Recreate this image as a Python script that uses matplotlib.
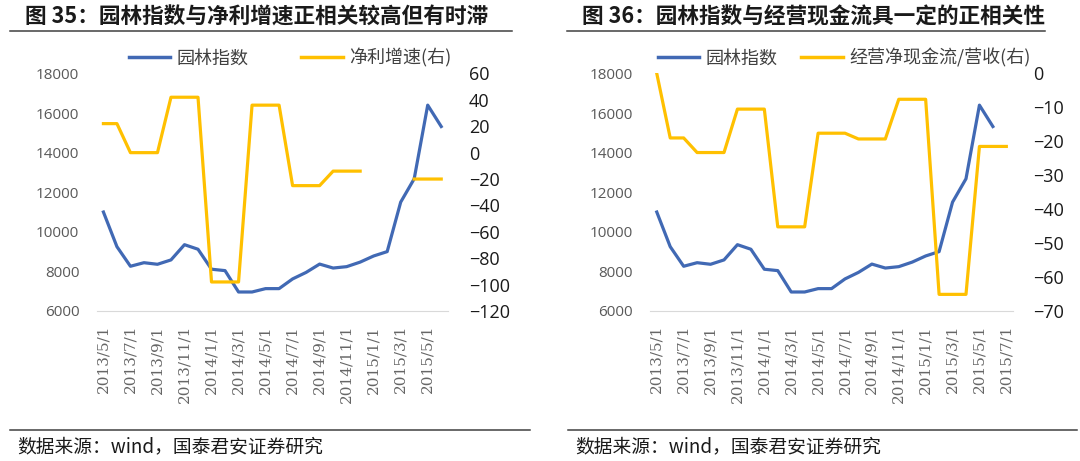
import numpy as np
import matplotlib.pyplot as plt
from matplotlib.lines import Line2D

plt.rcParams['font.family'] = ['Noto Sans CJK SC', 'DejaVu Sans']

# months shown on the left chart (2013/5 .. 2015/6) and right chart (.. 2015/7)
months = ['2013/5/1', '2013/6/1', '2013/7/1', '2013/8/1', '2013/9/1', '2013/10/1',
          '2013/11/1', '2013/12/1', '2014/1/1', '2014/2/1', '2014/3/1', '2014/4/1',
          '2014/5/1', '2014/6/1', '2014/7/1', '2014/8/1', '2014/9/1', '2014/10/1',
          '2014/11/1', '2014/12/1', '2015/1/1', '2015/2/1', '2015/3/1', '2015/4/1',
          '2015/5/1', '2015/6/1', '2015/7/1']

# 园林指数 (same series in both charts)
garden_idx = [11000, 9250, 8260, 8440, 8360, 8580, 9350, 9120, 8110, 8040,
              6960, 6960, 7130, 7130, 7620, 7950, 8370, 8170, 8240, 8470,
              8780, 9000, 11500, 12680, 16400, 15320]

# 净利增速 (右)
profit_growth = [22, 22, 0, 0, 0, 42, 42, 42, -98, -98, -98, 36, 36, 36,
                 -25, -25, -25, -14, -14, -14, np.nan, np.nan, np.nan, -20, -20, -20]

# 经营净现金流/营收 (右)
cash_ratio = [0, -19, -19, -23.3, -23.3, -23.3, -10.5, -10.5, -10.5,
              -45.2, -45.2, -45.2, -17.6, -17.6, -17.6, -19.3, -19.3, -19.3,
              -7.6, -7.6, -7.6, -65.1, -65.1, -65.1, -21.5, -21.5, -21.5]

BLUE = '#4169B4'
GOLD = '#FFC000'

fig = plt.figure(figsize=(10.8, 4.61), dpi=100)


def draw_panel(rect, n_cat, right_vals, right_lim, right_ticks, right_name,
               leg_center, colspace, rpad, lpad):
    ax = fig.add_axes(rect)
    x = np.arange(n_cat)
    ax.plot(np.arange(len(garden_idx)), garden_idx, color=BLUE, lw=2.3,
            solid_joinstyle='round')
    ax.set_xlim(-0.5, n_cat - 0.5)
    ax.set_ylim(6000, 18000)
    ax.set_yticks(range(6000, 18001, 2000))
    for s in ['top', 'left', 'right']:
        ax.spines[s].set_visible(False)
    ax.spines['bottom'].set_color('#d9d9d9')
    ax.tick_params(axis='y', length=0, pad=lpad, labelsize=11, labelcolor='#595959')
    for lab in ax.get_yticklabels():
        lab.set_family('Open Sans')
    ax.set_xticks(x[::2])
    ax.set_xticklabels(months[:n_cat:2], rotation=90, family='DejaVu Serif',
                       fontsize=11, color='#666666', va='top')
    ax.tick_params(axis='x', length=0, pad=10)

    ax2 = ax.twinx()
    ax2.plot(np.arange(len(right_vals)), right_vals, color=GOLD, lw=2.3)
    ax2.set_ylim(*right_lim)
    ax2.set_yticks(right_ticks)
    for s in ['top', 'left', 'right', 'bottom']:
        ax2.spines[s].set_visible(False)
    ax2.tick_params(axis='y', length=0, pad=rpad, labelsize=13, labelcolor='#1a1a1a')
    for lab in ax2.get_yticklabels():
        lab.set_family('Open Sans')

    handles = [Line2D([], [], color=BLUE, lw=2.5), Line2D([], [], color=GOLD, lw=2.5)]
    ax2.legend(handles, ['园林指数', right_name], ncol=2, frameon=False,
               loc='center', bbox_to_anchor=leg_center, bbox_transform=fig.transFigure,
               fontsize=13, labelcolor='#404040', handlelength=2.3,
               handletextpad=0.35, columnspacing=colspace, borderpad=0)
    return ax


draw_panel([0.0895, 0.3254, 0.3253, 0.5152], 26, profit_growth, (-120, 60),
           range(-120, 61, 20), '净利增速(右)', (0.2685, 0.874), 2.9, 15, 12.5)
draw_panel([0.6019, 0.3254, 0.3361, 0.5152], 27, cash_ratio, (-70, 0),
           range(-70, 1, 10), '经营净现金流/营收(右)', (0.7815, 0.874), 1.3, 14.5, 12.5)

# titles and rules
fig.text(25 / 1080, 1 - 17 / 461, '图 35：园林指数与净利增速正相关较高但有时滞',
         fontsize=15.6, fontweight='bold', va='center', color='#1a1a1a')
fig.text(582 / 1080, 1 - 17 / 461, '图 36：园林指数与经营现金流具一定的正相关性',
         fontsize=15.6, fontweight='bold', va='center', color='#1a1a1a')
for x0, x1 in [(10, 512), (567, 1045)]:
    fig.add_artist(Line2D([x0 / 1080, x1 / 1080], [1 - 31 / 461] * 2,
                          color='#404040', lw=1.1))
for x0, x1 in [(10, 530), (568, 1077)]:
    fig.add_artist(Line2D([x0 / 1080, x1 / 1080], [1 - 430 / 461] * 2,
                          color='#404040', lw=1.1))

fig.text(17 / 1080, 1 - 447 / 461, '数据来源：wind，国泰君安证券研究',
         fontsize=13.5, va='center', color='#1a1a1a')
fig.text(575 / 1080, 1 - 447 / 461, '数据来源：wind，国泰君安证券研究',
         fontsize=13.5, va='center', color='#1a1a1a')

fig.savefig('out.png', dpi=100)
